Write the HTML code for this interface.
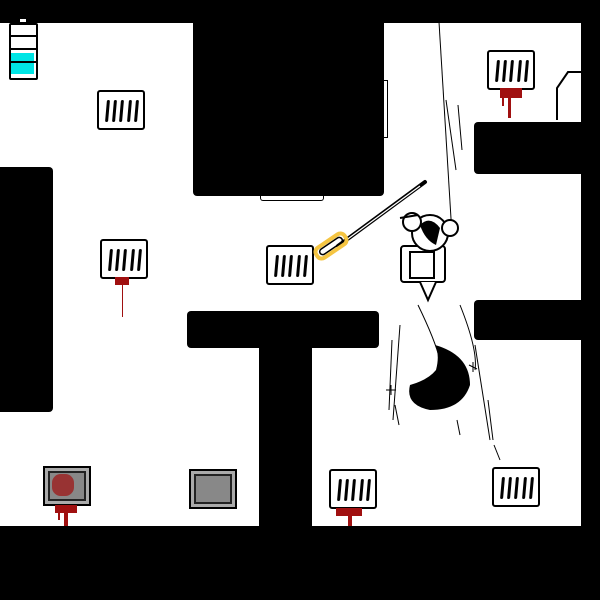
<!DOCTYPE html>
<html><head><meta charset="utf-8"><style>
html,body{margin:0;padding:0;background:#000;}
#s{position:relative;width:600px;height:600px;background:#000;overflow:hidden;}
.fl{position:absolute;background:#fff;}
.bk{position:absolute;background:#000;border-radius:4px;}
.vent{position:absolute;width:44px;height:36px;border:2px solid #000;border-radius:3px;background:#fff;}
.vent i{position:absolute;top:8px;width:3px;height:22px;background:#000;border-radius:2px;transform:skewX(-5deg);}
.gray{position:absolute;width:44px;height:36px;border:2px solid #000;background:#888;box-shadow:inset 0 0 0 3px #aaa,inset 0 0 0 5px #222;}
.blood{position:absolute;width:3px;background:#a01010;}
</style></head><body><div id="s">
<div class="fl" style="left:0;top:23px;width:581px;height:503px;"></div>
<div class="bk" style="left:193px;top:18px;width:191px;height:178px;"></div>
<div style="position:absolute;left:384px;top:80px;width:3px;height:56px;border:1px solid #000;border-left:none;"></div>
<div style="position:absolute;left:260px;top:195px;width:62px;height:5px;border:1px solid #000;border-top:none;border-radius:0 0 3px 3px;"></div>
<div class="bk" style="left:-5px;top:167px;width:58px;height:245px;"></div>
<div class="bk" style="left:187px;top:311px;width:192px;height:37px;"></div>
<div style="position:absolute;left:259px;top:340px;width:53px;height:190px;background:#000;"></div>
<div class="bk" style="left:474px;top:122px;width:120px;height:52px;"></div>
<div class="bk" style="left:474px;top:300px;width:120px;height:40px;"></div>

<!-- battery -->
<div style="position:absolute;left:9px;top:23px;width:25px;height:53px;border:2px solid #000;border-radius:2px;background:#fff;"></div>
<div style="position:absolute;left:11px;top:35px;width:25px;height:2px;background:#000;"></div>
<div style="position:absolute;left:11px;top:48px;width:25px;height:2px;background:#000;"></div>
<div style="position:absolute;left:11px;top:53px;width:23px;height:8px;background:#00e5e5;"></div>
<div style="position:absolute;left:11px;top:61px;width:25px;height:2px;background:#000;"></div>
<div style="position:absolute;left:11px;top:63px;width:23px;height:11px;background:#00e5e5;"></div>
<div style="position:absolute;left:20px;top:19px;width:6px;height:3px;background:#fff;"></div>

<!-- vents -->
<div class="vent" style="left:97px;top:90px;"><i style="left:7px"></i><i style="left:14px"></i><i style="left:21px"></i><i style="left:29px"></i><i style="left:36px"></i></div>
<div class="vent" style="left:100px;top:239px;"><i style="left:7px"></i><i style="left:14px"></i><i style="left:21px"></i><i style="left:29px"></i><i style="left:36px"></i></div>
<div class="vent" style="left:266px;top:245px;"><i style="left:7px"></i><i style="left:14px"></i><i style="left:21px"></i><i style="left:29px"></i><i style="left:36px"></i></div>
<div class="vent" style="left:487px;top:50px;"><i style="left:7px"></i><i style="left:14px"></i><i style="left:21px"></i><i style="left:29px"></i><i style="left:36px"></i></div>
<div class="vent" style="left:329px;top:469px;"><i style="left:7px"></i><i style="left:14px"></i><i style="left:21px"></i><i style="left:29px"></i><i style="left:36px"></i></div>
<div class="vent" style="left:492px;top:467px;"><i style="left:7px"></i><i style="left:14px"></i><i style="left:21px"></i><i style="left:29px"></i><i style="left:36px"></i></div>
<div class="gray" style="left:43px;top:466px;"></div>
<div class="gray" style="left:189px;top:469px;"></div>

<!-- blood -->
<div class="blood" style="left:500px;top:88px;height:10px;width:22px;"></div>
<div class="blood" style="left:508px;top:96px;height:22px;"></div>
<div class="blood" style="left:502px;top:96px;height:10px;width:2px;"></div>
<div class="blood" style="left:115px;top:277px;height:8px;width:14px;"></div>
<div class="blood" style="left:122px;top:285px;height:32px;width:1px;"></div>
<div class="blood" style="left:55px;top:505px;height:8px;width:22px;"></div>
<div class="blood" style="left:64px;top:510px;height:16px;width:4px;"></div>
<div class="blood" style="left:58px;top:510px;height:10px;width:2px;"></div>
<div class="blood" style="left:336px;top:508px;height:8px;width:26px;"></div>
<div class="blood" style="left:348px;top:512px;height:14px;width:4px;"></div>
<div style="position:absolute;left:52px;top:474px;width:22px;height:22px;background:#a01010;opacity:.7;border-radius:40%;"></div>

<svg width="600" height="600" style="position:absolute;left:0;top:0">
 <path d="M557 120 V88 L568 72 H582 V120" fill="#fff" stroke="#000" stroke-width="2"/>
 <line x1="439" y1="22" x2="452" y2="235" stroke="#000" stroke-width="1"/>
 <line x1="338" y1="246" x2="425" y2="182" stroke="#000" stroke-width="4" stroke-linecap="round"/>
 <line x1="345" y1="241" x2="420" y2="186" stroke="#fff" stroke-width="1.2"/>
 <rect x="314" y="240" width="34" height="12" rx="5" transform="rotate(-34 331 246)" fill="none" stroke="#f5c542" stroke-width="4"/>
 <rect x="318" y="243" width="26" height="6" rx="3" transform="rotate(-34 331 246)" fill="none" stroke="#000" stroke-width="1.5"/>
 <g stroke="#000" stroke-width="2" fill="#fff">
  <rect x="401" y="246" width="44" height="36" rx="3"/>
  <circle cx="430" cy="233" r="18"/>
  <circle cx="412" cy="222" r="9"/>
  <circle cx="450" cy="228" r="8"/>
  <rect x="410" y="252" width="24" height="26"/>
  <path d="M420 282 L428 300 L436 282"/>
  <line x1="400" y1="218" x2="418" y2="215"/>
 </g>
 <path d="M420 225 Q430 215 440 228 L436 245 Q425 240 420 225Z" fill="#000"/>
 <path d="M435 345 Q470 355 470 385 Q462 410 430 410 Q405 405 410 385 Q428 380 436 370 Q440 355 435 345Z" fill="#000"/>
 <g stroke="#000" stroke-width="1" fill="none">
  <path d="M446 100 L456 170"/><path d="M458 105 L462 150"/>
  <path d="M418 305 Q435 340 440 360"/><path d="M460 305 Q478 350 475 370"/>
  <path d="M400 325 L393 420"/><path d="M392 340 L389 410"/>
  <path d="M475 345 L490 440"/><path d="M488 400 L493 440"/>
  <path d="M386 390 H396 M391 385 V395"/><path d="M469 365 L477 369 M473 362 V372"/>
  <path d="M457 420 L460 435"/><path d="M494 445 L500 460"/>
  <path d="M395 405 L399 425"/>
 </g>
</svg>
</div></body></html>
